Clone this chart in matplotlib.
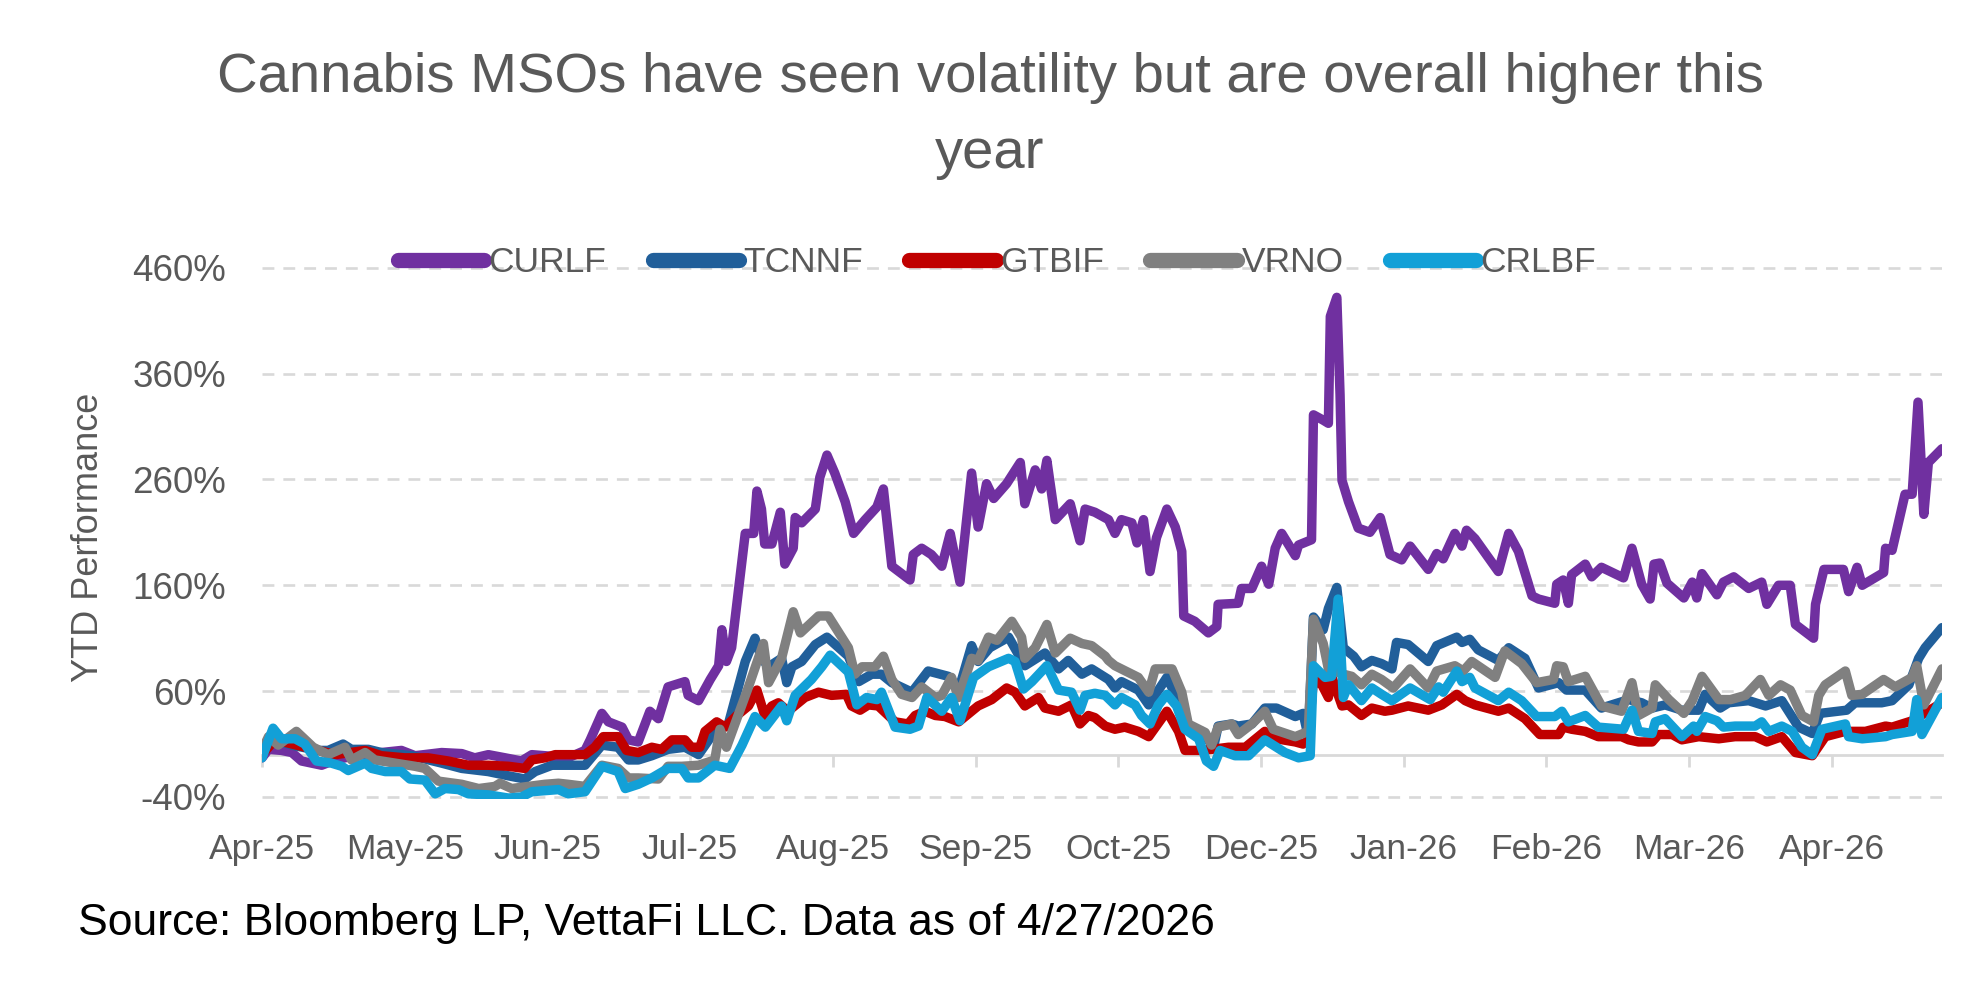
import matplotlib.pyplot as plt

# trading-day index (0 = first day of Apr-25), YTD performance in %
curlf_x = [0, 1, 3, 4.6, 6.1, 9.2, 11.3, 14.3, 18.4, 21.5, 23.6, 27.7, 30.8, 32.8, 34.9, 37.5, 40, 41.6, 43.6, 47.2,
           49.8, 50.6, 52.4, 53.4, 55.5, 56.5, 58, 59.8, 61.1, 62.6, 65.2, 65.7, 67.3, 69.1, 70.4, 70.9, 71.6, 72.4,
           74.5, 75.8, 76.3, 77, 77.5, 78.6, 79.9, 80.6, 81.9, 82.2, 83.2, 85.3, 86, 87.1, 88.3, 89.9, 91.2, 93, 94.8,
           95.8, 97.1, 99.9, 100.4, 101.7, 103.2, 104.8, 106.1, 107.6, 109.4, 110.4, 111.7, 112.8, 114.8, 116.9, 117.6,
           119.2, 120.2, 121, 122.3, 124.6, 126.1, 126.9, 128.4, 130.5, 131.5, 132.5, 134.1, 134.9, 135.9, 136.9,
           137.9, 139.5, 140.8, 141.8, 142.1, 143.8, 145.9, 147.2, 147.4, 150.5, 151, 152.6, 154.1, 155.2, 156.2,
           157.2, 159.3, 159.8, 161.8, 162.1, 163.6, 164.4, 164.7, 165.7, 166.2, 166.5, 167.5, 169, 170.8, 172.4,
           173.9, 175.7, 177, 179.8, 181.1, 182.1, 183.9, 185, 185.7, 187, 190.6, 192.2, 193.7, 195.8, 196.8, 199.3,
           199.6, 200.6, 201.4, 201.9, 204, 205, 206.5, 209.9, 211.2, 212.7, 214, 214.6, 215.5, 216.6, 219.2, 220.5,
           221.2, 222, 224.3, 225.3, 226.9, 229.2, 231.2, 232, 233.8, 235.6, 236.4, 239.2, 239.5, 240.8, 243.8, 244.6,
           245.9, 246.7, 250, 250.3, 251.3, 253.3, 254.4, 255.3, 256.2, 256.9, 259]
curlf_y = [-3, 5, 4, 2, -6, -10, -5, -1, 2, 4, -1, 2, 1, -3, 0, -3, -6, 0, -1, -3,
           4, 14, 39, 31, 26, 14, 12, 41, 34, 64, 69, 56, 51, 71, 84, 118, 88, 101,
           209, 209, 249, 232, 199, 199, 229, 180, 195, 224, 219, 232, 262, 283, 266, 239, 209, 222, 234,
           251, 178, 165, 189, 195, 189, 178, 209, 163, 266, 215, 256, 242, 256, 276, 237,
           269, 251, 278, 222, 237, 202, 232, 229, 222, 209, 222, 219, 200, 222, 173,
           205, 232, 215, 192, 131, 126, 115, 121, 142, 143, 157, 157, 178, 161, 195,
           209, 188, 198, 203, 321, 316, 313, 414, 432, 340, 259, 239, 214, 210, 224,
           189, 184, 197, 175, 190, 185, 209, 197, 212, 204, 173, 209, 192, 150, 147, 143,
           161, 165, 143, 170, 180, 168, 177, 167, 195, 161, 147, 180, 181, 162, 148, 163,
           148, 171, 151, 163, 168, 157, 163, 142, 160, 160, 123, 110, 142, 175, 175, 154,
           177, 160, 172, 195, 193, 246, 246, 333, 227, 276, 289]

tcnnf_x = [0, 2, 4.6, 8.7, 10.2, 12.5, 13.8, 16.4, 18.4, 23.1, 27.7, 30.8, 34.9, 38, 40.5, 42.1, 44.7, 49.8, 52.4,
           54.9, 56.5, 58, 60.1, 62.6, 65.2, 67.3, 69.8, 71.9, 74.5, 76, 77, 78.1, 80.1, 80.9, 81.7, 83.2, 85.3, 87.1,
           90.4, 92, 94, 95.5, 97.1, 100.2, 102.7, 105.8, 107.4, 109.4, 110.4, 112.2, 115.1, 117.6, 120.7, 122.8,
           124.3, 126.4, 127.9, 130.5, 131.5, 132.5, 135.1, 136.7, 139.5, 140.8, 142.6, 144.9, 146.7, 147.4, 149.5,
           150.5, 152.6, 154.6, 156.4, 159.3, 160.5, 161.3, 162.1, 163.6, 164.4, 165.7, 166.7, 168.3, 169.5, 171.1,
           172.6, 174.2, 174.9, 176.7, 179.8, 181.1, 184.2, 185, 186.2, 187.5, 190.6, 192.2, 194.7, 196.8, 199.9,
           201.1, 204, 206.5, 210.7, 212.7, 214.3, 216.3, 218.9, 221.5, 222.5, 224.8, 226.1, 229.2, 231.8, 234.3,
           236.9, 239, 240.2, 244.3, 245.6, 249.7, 251.3, 253.9, 255.4, 256.4, 259]
tcnnf_y = [2, 14, 9, 4, 4, 10, 5, 5, 2, -1, -8, -13, -16, -20, -23, -16, -10, -10, 9,
           7, -5, -5, -1, 5, 7, 0, 22, 29, 88, 110, 91, 83, 91, 68, 83, 88, 104, 111,
           93, 69, 76, 76, 68, 59, 79, 74, 61, 103, 88, 101, 111, 84, 96, 81,
           89, 76, 81, 71, 63, 69, 61, 47, 73, 57, 26, 22, 7, 27, 29,
           27, 29, 44, 44, 36, 39, 17, 130, 118, 138, 158, 101, 93, 83, 89,
           86, 81, 106, 104, 88, 103, 111, 106, 109, 99, 89, 101, 91, 63, 68,
           61, 61, 44, 52, 49, 44, 47, 42, 42, 57, 44, 49, 51, 46, 51,
           26, 20, 39, 42, 49, 49, 51, 66, 91, 101, 120]

gtbif_x = [0, 2, 8.7, 11.3, 15.9, 18.4, 22, 25.6, 28.7, 31.8, 34.9, 38, 40.5, 41.6, 43.6, 45.2, 49.8, 51.3, 52.6,
           54.9, 56.2, 58, 60.1, 61.6, 63.2, 65.2, 66.2, 67.5, 68.3, 70.1, 71.4, 73.2, 75, 76.3, 77.5, 78.6, 79.6,
           81.1, 82.7, 83.7, 85.8, 87.8, 90.1, 90.9, 92.2, 93.5, 95, 97.6, 99.6, 100.7, 102.2, 103.8, 105.3, 107.4,
           110.4, 112.5, 114.8, 116.1, 117.6, 119.7, 120.7, 122.8, 124.8, 126.1, 127.4, 128.4, 130, 131.5, 133,
           135.1, 136.7, 139.5, 141.3, 142.3, 144.4, 146.4, 149, 151.6, 154.6, 156.4, 159.3, 160.5, 161.3, 162.1,
           163.4, 164.4, 164.9, 166.5, 167.5, 169.5, 171.1, 173.1, 174.2, 176.7, 179.8, 181.9, 184.2, 185.5, 187,
           190.6, 192.2, 194.7, 197, 199.9, 200.6, 201.9, 204, 206, 209.6, 210.7, 212.2, 214.3, 215.3, 217.4, 218.9,
           221.5, 224.6, 227.1, 230.2, 232, 234.3, 236.4, 239, 241, 244.1, 247.2, 250.3, 251.3, 254.4, 259]
gtbif_y = [0, 14, 4, 0, 4, -1, -3, -3, -6, -10, -10, -11, -13, -5, -3, 0, 0, 7, 17,
           17, 4, 2, 7, 5, 14, 14, 7, 7, 22, 31, 26, 37, 46, 61, 37, 46, 49,
           41, 49, 54, 59, 56, 57, 46, 42, 47, 46, 31, 29, 37, 41, 37, 36, 31,
           46, 52, 63, 59, 46, 54, 44, 41, 47, 29, 37, 35, 27, 24, 26,
           22, 17, 41, 22, 4, 4, 5, 7, 7, 22, 15, 12, 10, 14, 71,
           66, 54, 74, 46, 47, 37, 44, 41, 42, 46, 42, 47, 57, 51, 47,
           41, 44, 34, 19, 19, 26, 24, 22, 17, 17, 14, 12, 12, 19, 19, 14,
           17, 15, 17, 17, 12, 17, 2, -1, 17, 22, 22, 27, 26, 32, 49]

vrno_x = [0, 1, 2.5, 5.3, 7.9, 10.2, 12.8, 13.8, 15.9, 17.4, 20.5, 23.6, 25.1, 27.2, 30.8, 33.4, 35.9, 36.7, 38.5,
          41.1, 43.6, 45.7, 47.2, 49.8, 52.4, 54.9, 56.5, 58, 61.1, 62.6, 64.7, 67.3, 69.8, 70.6, 71.6, 75, 77.3,
          78.1, 80.1, 81.9, 83, 85.8, 87.3, 90.4, 91.4, 92.5, 94.5, 95.8, 97.1, 98.6, 100.2, 101.7, 103.8, 104.8,
          106.3, 107.4, 109.4, 110.4, 112, 113.3, 115.6, 117.1, 117.6, 119.2, 121, 122.3, 124.6, 126.4, 127.9, 130,
          130.5, 131.5, 135.1, 136.7, 137.7, 140.3, 141.8, 142.8, 145.4, 146.4, 147.4, 149.5, 150.5, 152.6, 154.6,
          155.9, 159.3, 160.5, 161.3, 162.1, 163.6, 164.4, 166.7, 168, 169.5, 171.1, 172.6, 174.4, 177, 179.8, 181.1,
          183.9, 185.2, 186.5, 190.1, 191.6, 194.2, 196.5, 199.1, 199.6, 200.6, 201.4, 204, 206.5, 209.6, 211.2,
          212.2, 214.3, 214.8, 216.9, 219.2, 220.5, 222, 224.6, 226.4, 228.7, 231, 232.3, 234.1, 235.6, 237.4,
          239.2, 240, 241, 244.1, 245.1, 246.7, 250, 251.8, 254.4, 255.1, 256.2, 259]
vrno_y = [4, 17, 9, 22, 7, 0, 7, -5, 2, -5, -8, -11, -13, -25, -28, -32, -30, -27, -32,
          -30, -28, -27, -28, -30, -10, -13, -22, -22, -23, -11, -11, -10, -5, 24, 7, 64, 105,
          68, 91, 135, 115, 131, 131, 101, 76, 83, 83, 93, 71, 57, 54, 64, 54, 56,
          73, 54, 91, 89, 111, 108, 126, 111, 91, 101, 123, 96, 110, 105, 103, 93,
          89, 84, 73, 59, 81, 81, 59, 29, 21, 9, 26, 29, 19, 29, 41,
          24, 17, 20, 22, 128, 105, 81, 76, 74, 66, 76, 71, 63, 81, 63, 79,
          84, 79, 88, 73, 98, 86, 68, 71, 84, 83, 69, 74, 46, 41, 68,
          37, 44, 66, 52, 39, 51, 74, 52, 52, 56, 71, 56, 66, 61, 37,
          31, 56, 66, 79, 56, 57, 71, 64, 73, 84, 47, 81]

crlbf_x = [0, 1.7, 3, 5.1, 6.6, 8.4, 10.7, 12.3, 13.3, 15.9, 16.9, 19, 21.5, 22.8, 25.1, 26.7, 28.2, 30.3, 31.8,
           34.9, 38, 40, 41.6, 45.7, 47.2, 49.8, 52.4, 54.9, 56, 58, 60.1, 62.6, 64.7, 65.7, 67.3, 69.8, 72.1, 74, 76,
           77.6, 80.1, 80.9, 82.2, 84.7, 86.3, 87.6, 90.4, 91.7, 93.2, 94.8, 95.5, 97.6, 99.9, 101.2, 102.5, 104.8,
           106.3, 107.6, 109.7, 112, 115.1, 116.1, 117.4, 118.7, 121, 122.8, 124.8, 126.1, 126.9, 128.4, 130, 131.5,
           132.5, 134.6, 135.6, 136.9, 138.2, 139.5, 141, 142.3, 144.4, 145.6, 146.7, 147.7, 150, 152.1, 154.6, 156.4,
           157.7, 159.8, 161.6, 162.1, 163.9, 164.9, 165.9, 166.7, 167.5, 169.5, 171.1, 172.6, 174.2, 177, 180.1,
           181.4, 182.1, 184.2, 185, 186.2, 187, 190.6, 192.2, 194.2, 196.5, 199.3, 200.4, 201.4, 204, 206, 209.9,
           211.2, 212.2, 214.3, 214.8, 216.3, 218.9, 220.7, 221.2, 222.5, 224.3, 225.3, 227.1, 230.2, 231.2, 232.3,
           234.3, 235.9, 237.4, 239, 240.5, 244.1, 244.6, 246.7, 250.3, 251.3, 254.4, 255.1, 255.9, 259]
crlbf_y = [-3, 25, 15, 15, 10, -6, -8, -11, -15, -8, -13, -16, -16, -23, -24, -37, -32, -33, -37,
           -38, -41, -40, -35, -33, -37, -35, -11, -16, -32, -28, -22, -13, -13, -22, -22, -10, -13, 9, 36,
           26, 46, 32, 56, 71, 83, 94, 78, 47, 54, 52, 59, 26, 24, 27, 54, 41,
           54, 32, 73, 83, 91, 88, 62, 69, 84, 61, 59, 42, 56, 58, 56, 47,
           54, 47, 37, 29, 47, 57, 46, 24, 15, -6, -11, 4, -1, -1, 14, 7,
           2, -3, -1, 84, 73, 74, 147, 54, 66, 51, 63, 57, 51, 63, 52,
           64, 59, 79, 69, 73, 63, 51, 59, 51, 36, 36, 41, 31, 37, 26, 24,
           42, 22, 20, 31, 34, 17, 27, 22, 36, 32, 26, 27, 27, 31, 22,
           27, 22, 7, 0, 24, 29, 17, 15, 17, 19, 22, 52, 19, 54]

names = ["CURLF", "TCNNF", "GTBIF", "VRNO", "CRLBF"]
colors = ["#7030A0", "#215F9A", "#C00000", "#808080", "#12A0D7"]

tick_days = [0, 22, 44, 66, 88, 110, 132, 154, 176, 198, 220, 242]
tick_labels = ["Apr-25", "May-25", "Jun-25", "Jul-25", "Aug-25", "Sep-25", "Oct-25",
               "Dec-25", "Jan-26", "Feb-26", "Mar-26", "Apr-26"]
y_ticks = [-40, 60, 160, 260, 360, 460]

plt.rcParams['font.family'] = ['Liberation Sans', 'DejaVu Sans']
gray_txt = "#595959"
grid_c = "#D9D9D9"

fig = plt.figure(figsize=(19.8, 9.9), dpi=100)
# axes spans -42%..462% so the outer gridlines are not clipped
px_per = 529.3 / 500
top = 267.7 - 2 * px_per
bot = 797 + 2 * px_per
ax = fig.add_axes([262 / 1980, 1 - bot / 990, 1680 / 1980, (bot - top) / 990])

series = [(curlf_x, curlf_y), (tcnnf_x, tcnnf_y), (gtbif_x, gtbif_y), (vrno_x, vrno_y), (crlbf_x, crlbf_y)]
for (xs, ys), name, c in zip(series, names, colors):
    ax.plot(xs, ys, color=c, lw=6.8, label=name, solid_joinstyle='round', solid_capstyle='round')

ax.set_xlim(0, 259)
ax.set_ylim(-42, 462)
ax.set_xticks(tick_days)
ax.set_xticklabels(tick_labels)
ax.set_yticks(y_ticks)
ax.set_yticklabels([f"{v}%" for v in y_ticks])

for s in ['top', 'right', 'left']:
    ax.spines[s].set_visible(False)
ax.spines['bottom'].set_position(('data', 0))
ax.spines['bottom'].set_color(grid_c)
ax.spines['bottom'].set_linewidth(2)
ax.spines['bottom'].set_zorder(0.5)

ax.tick_params(axis='x', length=8.6, width=2, color=grid_c, pad=48, labelsize=25.5, labelcolor=gray_txt)
ax.tick_params(axis='y', length=0, pad=26, labelsize=26.5, labelcolor=gray_txt)
ax.yaxis.grid(True, color=grid_c, lw=1.9, linestyle=(0, (4.5, 3.4)))
ax.set_axisbelow(True)

fig.text(88 / 1980, 1 - 537 / 990, "YTD Performance", rotation=90, ha='center', va='center',
         fontsize=26, color=gray_txt)
fig.text(0.5, 1 - 78 / 990, "Cannabis MSOs have seen volatility but are overall higher this",
         ha='center', va='center', fontsize=40.5, color=gray_txt)
fig.text(0.5, 1 - 154 / 990, "year", ha='center', va='center', fontsize=40.5, color=gray_txt)
fig.text(78 / 1980, 1 - 924 / 990, "Source: Bloomberg LP, VettaFi LLC. Data as of 4/27/2026",
         ha='left', va='center', fontsize=32, color='black')

leg = fig.legend(loc='center', bbox_to_anchor=(997 / 1980, 1 - 263 / 990), ncol=5, frameon=False,
                 fontsize=25.5, handlelength=2.45, handletextpad=0.12, columnspacing=1.3, labelcolor=gray_txt)
for h in leg.legend_handles:
    h.set_linewidth(11)

fig.savefig("out.png", dpi=100)
